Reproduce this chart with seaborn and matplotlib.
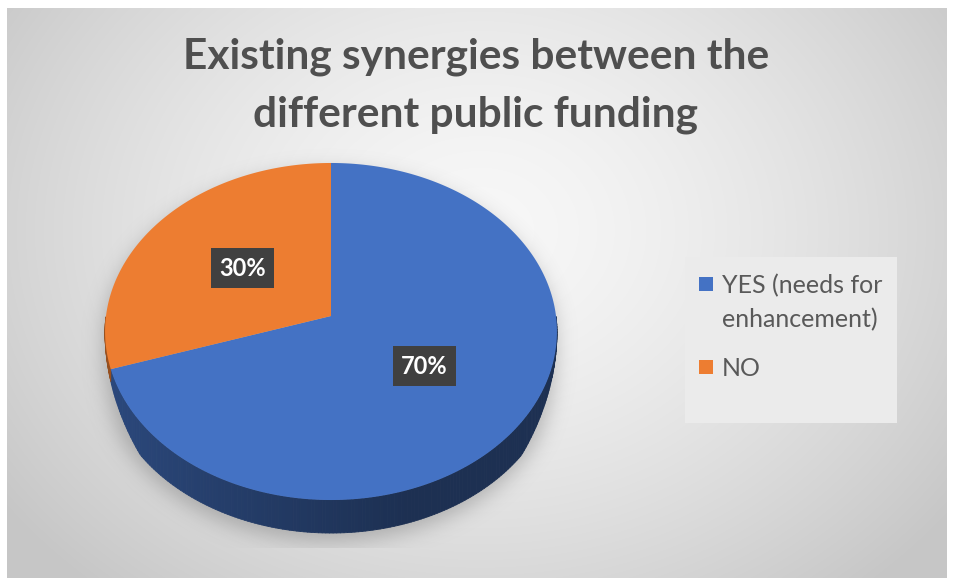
import numpy as np
import matplotlib
matplotlib.use("Agg")
import matplotlib.pyplot as plt
import seaborn as sns
from matplotlib.patches import Polygon, Rectangle
from matplotlib.path import Path
from matplotlib.collections import PolyCollection

# ---- data -------------------------------------------------------------
categories = ["YES (needs for\nenhancement)", "NO"]
shares = [70, 30]
colors = ["#4472C4", "#ED7D31"]
title = "Existing synergies between the\ndifferent public funding"

sns.set_theme(style="white")
plt.rcParams["font.family"] = ["Lato", "DejaVu Sans"]

W, H = 954, 578
fig = plt.figure(figsize=(W / 100, H / 100), dpi=100)
fig.patch.set_facecolor("white")
ax = fig.add_axes([0, 0, 1, 1])

# ---- panel background: soft radial grey gradient ------------------------
PX0, PX1, PY0, PY1 = 7, 947, 8, 578
yy, xx = np.mgrid[PY0:PY1, PX0:PX1]
d = np.sqrt(((xx - 480) / 520.0) ** 2 + ((yy - 230) / 420.0) ** 2)
val = np.clip(0.97 - 0.16 * d ** 1.5, 0.78, 1.0)
bg = np.dstack([val, val, val])

# ---- tilted pie geometry (pixel space) ---------------------------------
CX, CY = 331, 316      # pie centre on screen
RX = 225               # horizontal radius
A, C = 167.1, 0.092    # vertical scale and perspective strength
DEPTH = 33             # thickness of the disc


def project(u, v):
    den = 1 + C * v
    return CX + RX * u / den, CY - A * v / den


def thickness(v):
    # the rim thins out towards the left and right ends of the disc
    return DEPTH * np.clip(-v / 0.6, 0, 1) ** 1.5


wedges, _, autotexts = ax.pie(shares, colors=colors, startangle=90,
                              counterclock=False, radius=1, center=(0, 0),
                              autopct="%d%%", pctdistance=0.5)

# silhouette for the cast shadow
tt = np.linspace(0, 2 * np.pi, 400)
ex, ey = project(np.cos(tt), np.sin(tt))
top_path = Path(np.column_stack([ex, ey]))
low_path = Path(np.column_stack([ex, ey + DEPTH * np.clip(-np.sin(tt) / 0.45, 0, 1)]))
gy, gx = np.mgrid[0:H, 0:W]
pts = np.column_stack([gx.ravel() + 2, gy.ravel() - 8])
mask = (top_path.contains_points(pts) | low_path.contains_points(pts)).reshape(H, W).astype(float)
sig = 10
k = np.exp(-0.5 * (np.arange(-3 * sig, 3 * sig + 1) / sig) ** 2)
k /= k.sum()
blur = np.apply_along_axis(lambda r: np.convolve(r, k, mode="same"), 1, mask)
blur = np.apply_along_axis(lambda c: np.convolve(c, k, mode="same"), 0, blur)
blur[548:, :] = 0
shadow = np.zeros((H, W, 4))
shadow[..., :3] = 0.45
shadow[..., 3] = 0.45 * blur

ax.imshow(bg, extent=(PX0, PX1, PY1, PY0), zorder=0, interpolation="bilinear")
ax.imshow(shadow, extent=(0, W, H, 0), zorder=0.5, interpolation="bilinear")

tops = []
side_polys, side_cols = [], []
for w, col in zip(wedges, colors):
    th = np.radians(np.linspace(w.theta1, w.theta2, 300))
    u, v = np.cos(th), np.sin(th)
    px, py = project(u, v)
    dz = thickness(v)
    cx0, cy0 = project(0.0, 0.0)
    top = Polygon(np.column_stack([np.r_[cx0, px], np.r_[cy0, py]]),
                  closed=True, facecolor=col, edgecolor="none", zorder=2)
    tops.append(top)
    rgb = np.array(matplotlib.colors.to_rgb(col))
    for i in range(len(th) - 1):
        if v[i] <= 0.0 and v[i + 1] <= 0.0:
            um = 0.5 * (u[i] + u[i + 1])
            f = 0.64 - 0.22 * np.clip((um + 1) / 1.3, 0, 1)
            side_polys.append([(px[i], py[i]), (px[i + 1], py[i + 1]),
                               (px[i + 1], py[i + 1] + dz[i + 1]), (px[i], py[i] + dz[i])])
            side_cols.append(tuple(rgb * f))
    w.remove()

ax.add_collection(PolyCollection(side_polys, facecolors=side_cols,
                                 edgecolors=side_cols, linewidths=0.6, zorder=1.5))
for p in tops:
    ax.add_patch(p)

for t in autotexts:
    ux, uy = t.get_position()
    t.set_position(project(ux, uy))
    t.set(color="white", fontsize=17, fontweight="bold", ha="center", va="center", zorder=4)
    t.set_bbox(dict(boxstyle="square,pad=0.36", facecolor="#404040", edgecolor="none"))

# ---- title --------------------------------------------------------------
ax.text(476, 86, title, ha="center", va="center", fontsize=30.5, fontweight="bold",
        color="#4f4f4f", linespacing=1.64, zorder=4)

# ---- legend -------------------------------------------------------------
ax.add_patch(Rectangle((685, 257), 212, 166, facecolor="#ebebeb", edgecolor="none", zorder=1))
LEG_X, LEG_Y, LEG_STEP = 699, 277, 83
for i, (cat, col) in enumerate(zip(categories, colors)):
    y0 = LEG_Y + i * LEG_STEP
    ax.add_patch(Rectangle((LEG_X, y0), 14, 14, facecolor=col, edgecolor="none", zorder=3))
    ax.text(LEG_X + 23, y0 - 3, cat, ha="left", va="top", fontsize=18,
            color="#595959", linespacing=1.53, zorder=3)

ax.set_xlim(0, W)
ax.set_ylim(H, 0)
ax.set_aspect("auto")
ax.axis("off")

fig.savefig("out.png", dpi=100, facecolor="white")
